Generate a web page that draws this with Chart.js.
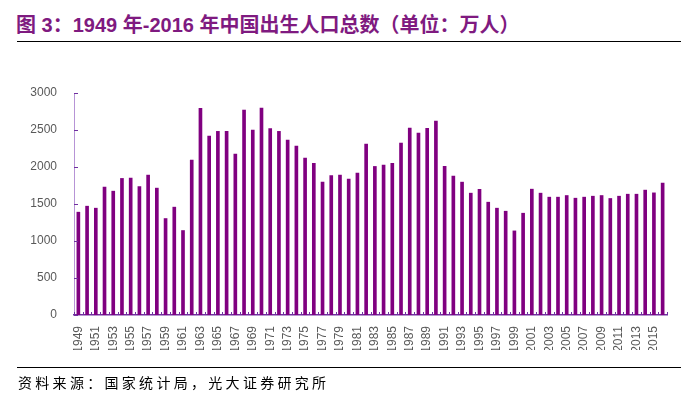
<!DOCTYPE html>
<html lang="zh">
<head>
    <meta charset="UTF-8">
    <title>1949-2016 年中国出生人口总数</title>
    <script src="https://cdn.jsdelivr.net/npm/chart.js"></script>
    <style>
        body { margin: 0; background: #fff; }
        #wrap { position: relative; width: 693px; height: 397px; overflow: hidden; }
        #title {
            position: absolute; left: 16px; top: 9px;
            font: bold 20px "Liberation Sans", "Noto Sans CJK SC", sans-serif;
            color: #7f1a80; white-space: nowrap;
        }
        #title-line { position: absolute; left: 17px; top: 41px; width: 664px; height: 1px; background: #000; }
        #foot-line { position: absolute; left: 17px; top: 367px; width: 664px; height: 1px; background: #000; }
        #foot {
            position: absolute; left: 18px; top: 372px;
            font: 14px "Noto Sans CJK SC", sans-serif; letter-spacing: 3.3px;
            color: #000; white-space: nowrap;
        }
        #chart-box { position: absolute; left: 0; top: 0; width: 693px; height: 397px; }
    </style>
</head>
<body>
<div id="wrap">
    <div id="title">图 3：1949 年-2016 年中国出生人口总数（单位：万人）</div>
    <div id="title-line"></div>
    <div id="chart-box"><canvas id="births"></canvas></div>
    <div id="foot-line"></div>
    <div id="foot">资料来源：国家统计局，光大证券研究所</div>
</div>
<script>
    // years 1949..2016
    const years = [];
    for (let y = 1949; y <= 2016; y++) years.push(String(y));

    // births, 10k people
    const births = [
        1394, 1475, 1448, 1732, 1678, 1850, 1854, 1741, 1895, 1719, // 1949-1958
        1308, 1462, 1146, 2098, 2797, 2422, 2486, 2486, 2179, 2774, // 1959-1968
        2504, 2801, 2522, 2486, 2368, 2287, 2125, 2053, 1800, 1890, // 1969-1978
        1895, 1840, 1922, 2314, 2012, 2030, 2053, 2328, 2531, 2463, // 1979-1988
        2526, 2625, 2012, 1881, 1800, 1651, 1703, 1529, 1448, 1407, // 1989-1998
        1141, 1380, 1705, 1651, 1597, 1597, 1619, 1583, 1597, 1610, // 1999-2008
        1619, 1579, 1610, 1637, 1637, 1692, 1655, 1786              // 2009-2016
    ];

    const yTicks = [0, 500, 1000, 1500, 2000, 2500, 3000];

    // small inward tick marks like the original
    const innerTicks = {
        id: 'innerTicks',
        afterDraw(chart) {
            const c = chart.ctx, a = chart.chartArea;
            const ys = chart.scales.y;
            c.save();
            c.strokeStyle = '#7030a0';
            c.lineWidth = 1;
            yTicks.forEach(v => {
                const py = Math.round(ys.getPixelForValue(v)) + 0.5;
                c.beginPath();
                c.moveTo(a.left, py);
                c.lineTo(a.left + 4, py);
                c.stroke();
            });
            const step = (a.right - a.left) / years.length;
            for (let i = 0; i <= years.length; i++) {
                const px = Math.round(a.left + i * step) + 0.5;
                c.beginPath();
                c.moveTo(px, a.bottom);
                c.lineTo(px, a.bottom - 3);
                c.stroke();
            }
            c.restore();
        }
    };

    new Chart(document.getElementById('births'), {
        type: 'bar',
        data: {
            labels: years,
            datasets: [{
                data: births,
                backgroundColor: '#800080',
                barPercentage: 0.42,
                categoryPercentage: 1.0
            }]
        },
        options: {
            responsive: true,
            maintainAspectRatio: false,
            animation: false,
            layout: { padding: { left: 0, right: 26, top: 93, bottom: 47 } },
            plugins: { legend: { display: false }, tooltip: { enabled: false } },
            scales: {
                x: {
                    grid: { display: false },
                    border: { color: '#7030a0', width: 1.5 },
                    ticks: {
                        autoSkip: false,
                        maxRotation: 90,
                        minRotation: 90,
                        padding: 3,
                        color: '#595959',
                        font: { family: 'Liberation Sans', size: 12 },
                        callback: (v, i) => (i % 2 === 0 ? years[i] : '')
                    },
                    afterFit: s => { s.height = 35; }
                },
                y: {
                    min: 0,
                    max: 3000,
                    grid: { display: false },
                    border: { color: '#b794d6', width: 1 },
                    ticks: {
                        stepSize: 500,
                        padding: 9,
                        color: '#595959',
                        font: { family: 'Liberation Sans', size: 12 },
                        callback: v => String(v)
                    },
                    afterFit: s => { s.width = 74; }
                }
            }
        },
        plugins: [innerTicks]
    });
</script>
</body>
</html>
